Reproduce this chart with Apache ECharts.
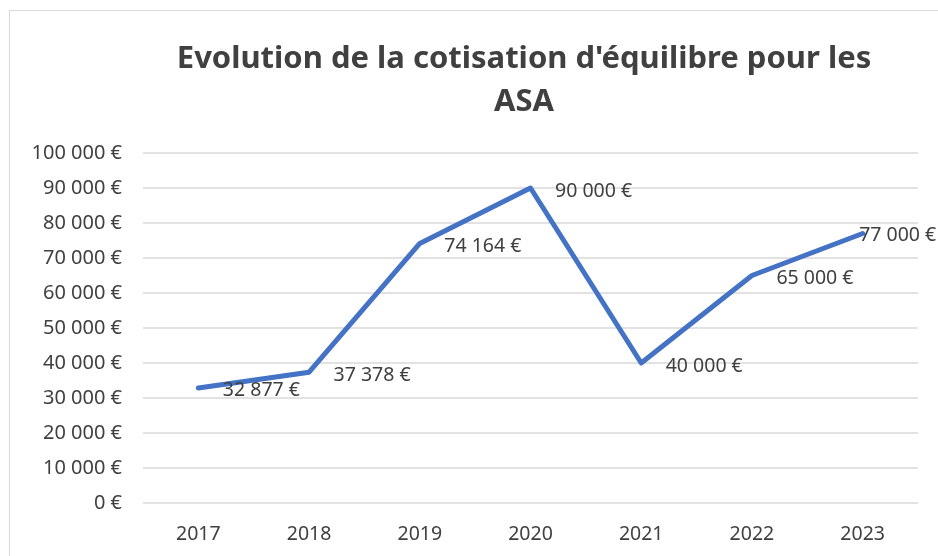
<!DOCTYPE html>
<html lang="fr">
<head>
  <meta charset="UTF-8">
  <title>Cotisation d'équilibre ASA</title>
  <style>
    * { margin: 0; padding: 0; }
    body { background: #ffffff; }
    #frame {
      position: absolute;
      left: 9px;
      top: 10px;
      width: 940px;
      height: 560px;
      border: 1px solid #d9d9d9;
    }
    #chart { position: absolute; left: 0; top: 0; width: 938px; height: 556px; }
  </style>
</head>
<body>
  <div id="frame"></div>
  <div id="chart"></div>
  <script src="https://cdn.jsdelivr.net/npm/echarts@6/dist/echarts.min.js"></script>
  <script type="text/javascript">
  var years = ['2017', '2018', '2019', '2020', '2021', '2022', '2023'];
  var cotisation = [32877, 37378, 74164, 90000, 40000, 65000, 77000];

  // 100000 -> "100 000 €"
  function euros (v) {
    return String(v).replace(/\B(?=(\d{3})+(?!\d))/g, ' ') + ' €';
  }

  function main () {
    var chart = echarts.init(document.getElementById('chart'));
    var font = '"Noto Sans", "Open Sans", sans-serif';
    // le dernier libellé est collé au point (il déborde à droite)
    var points = cotisation.map(function (v, i) {
      if (i === cotisation.length - 1) {
        return { value: v, label: { distance: 0, offset: [-4, 2] } };
      }
      return v;
    });
    var option = {
      animation: false,
      title: {
        text: "Evolution de la cotisation d'équilibre pour les\nASA",
        left: 519,
        textAlign: 'center',
        top: 33,
        textStyle: {
          fontFamily: font,
          fontSize: 31,
          fontWeight: 'bold',
          color: '#404040',
          lineHeight: 43
        }
      },
      grid: { left: 143, right: 20, top: 153, bottom: 53, containLabel: false },
      xAxis: {
        type: 'category',
        data: years,
        axisLine: { show: false },
        axisTick: { show: false },
        axisLabel: { fontFamily: font, fontSize: 19.5, color: '#404040', margin: 21 }
      },
      yAxis: {
        type: 'value',
        min: 0,
        max: 100000,
        interval: 10000,
        axisLabel: {
          fontFamily: font, fontSize: 20, color: '#404040', margin: 21,
          formatter: euros
        },
        splitLine: { lineStyle: { color: '#d9d9d9', width: 1.5 } }
      },
      series: [{
        type: 'line',
        data: points,
        showSymbol: true,
        symbol: 'circle',
        symbolSize: 1,
        itemStyle: { color: '#4472c4' },
        lineStyle: { color: '#4472c4', width: 5, cap: 'round', join: 'round' },
        label: {
          show: true,
          position: 'right',
          distance: 24,
          offset: [0, 3],
          fontFamily: font,
          fontSize: 19.5,
          color: '#404040',
          formatter: function (p) { return euros(p.value); }
        }
      }]
    };
    chart.setOption(option);
  }

  window.addEventListener('load', main);
  </script>
</body>
</html>
